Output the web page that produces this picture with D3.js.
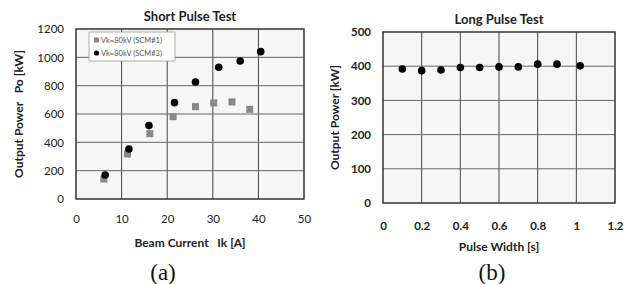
<!DOCTYPE html>
<html>
<head>
<meta charset="utf-8">
<script src="https://cdn.jsdelivr.net/npm/d3@7"></script>
<style>
  body { margin: 0; background: #fff; }
  svg { display: block; }
  .tick text { fill: #222; }
</style>
</head>
<body>
<svg id="chart" width="635" height="284"></svg>
<script>
// Short pulse test: beam current [A] vs output power [kW]
const scm1Current = [6.1, 11.3, 16.2, 21.3, 26.2, 30.2, 34.2, 38.1];
const scm1Power   = [141, 318, 461, 581, 652, 678, 685, 633];
const scm3Current = [6.4, 11.6, 16.0, 21.6, 26.2, 31.3, 36.0, 40.5];
const scm3Power   = [169, 353, 518, 680, 826, 930, 974, 1040];
const shortXTicks = [0, 10, 20, 30, 40, 50];
const shortYTicks = [0, 200, 400, 600, 800, 1000, 1200];
const legendLabels = ["Vk=80kV (SCM#1)", "Vk=80kV (SCM#3)"];

// Long pulse test: pulse width [s] vs output power [kW]
const pulseWidth = [0.1, 0.2, 0.3, 0.4, 0.5, 0.6, 0.7, 0.8, 0.9, 1.02];
const longPower  = [392, 387, 389, 396, 396, 398, 398, 406, 406, 401];
const longXTicks = [0, 0.2, 0.4, 0.6, 0.8, 1, 1.2];
const longYTicks = [0, 100, 200, 300, 400, 500];

const font = "Lato, 'Open Sans', sans-serif";
const svg = d3.select("#chart");

function panel(opts) {
    const x = d3.scaleLinear().domain(opts.xDomain).range([opts.left, opts.right]);
    const y = d3.scaleLinear().domain(opts.yDomain).range([opts.bottom, opts.top]);
    const g = svg.append("g");

    g.append("rect")
        .attr("x", opts.left).attr("y", opts.top)
        .attr("width", opts.right - opts.left)
        .attr("height", opts.bottom - opts.top)
        .attr("fill", "#f6f6f6");

    // grid
    g.append("g").selectAll("line")
        .data(opts.xTicks.slice(1, -1))
        .enter().append("line")
        .attr("x1", d => x(d)).attr("x2", d => x(d))
        .attr("y1", opts.top).attr("y2", opts.bottom)
        .attr("stroke", "#444").attr("stroke-width", 1);
    g.append("g").selectAll("line")
        .data(opts.yTicks.slice(1, -1))
        .enter().append("line")
        .attr("y1", d => y(d)).attr("y2", d => y(d))
        .attr("x1", opts.left).attr("x2", opts.right)
        .attr("stroke", "#666").attr("stroke-width", 1);

    g.append("rect")
        .attr("x", opts.left).attr("y", opts.top)
        .attr("width", opts.right - opts.left)
        .attr("height", opts.bottom - opts.top)
        .attr("fill", "none")
        .attr("stroke", "#333").attr("stroke-width", 1.5);

    const xAxis = d3.axisBottom(x).tickValues(opts.xTicks).tickSize(0).tickPadding(opts.xPad)
        .tickFormat(d3.format("~g"));
    const yAxis = d3.axisLeft(y).tickValues(opts.yTicks).tickSize(0).tickPadding(opts.yPad)
        .tickFormat(d3.format("d"));

    g.append("g")
        .attr("transform", `translate(0, ${opts.bottom})`)
        .call(xAxis)
        .call(a => a.select(".domain").remove())
        .selectAll("text")
        .style("font-family", font).style("font-size", "11.5px")
        .style("font-weight", opts.tickWeight);

    g.append("g")
        .attr("transform", `translate(${opts.left}, 0)`)
        .call(yAxis)
        .call(a => a.select(".domain").remove())
        .selectAll("text")
        .style("font-family", font).style("font-size", "11.5px")
        .style("font-weight", opts.tickWeight);

    const cx = (opts.left + opts.right) / 2;

    g.append("text")
        .attr("x", cx).attr("y", opts.top - 8)
        .attr("text-anchor", "middle")
        .style("font-family", font).style("font-size", "13px").style("font-weight", "bold")
        .attr("fill", "#222")
        .text(opts.title);

    g.append("text")
        .attr("x", cx).attr("y", opts.xTitleY)
        .attr("text-anchor", "middle")
        .style("font-family", font).style("font-size", "12px").style("font-weight", "bold")
        .attr("fill", "#222")
        .style("white-space", "pre")
        .text(opts.xTitle);

    g.append("text")
        .attr("transform", `rotate(-90)`)
        .attr("x", -(opts.top + opts.bottom) / 2).attr("y", opts.yTitleX)
        .attr("text-anchor", "middle")
        .style("font-family", font).style("font-size", "12px").style("font-weight", "bold")
        .attr("fill", "#222")
        .style("white-space", "pre")
        .text(opts.yTitle);

    g.append("text")
        .attr("x", opts.capX).attr("y", 280)
        .attr("text-anchor", "middle")
        .style("font-family", "'Liberation Serif', 'Times New Roman', serif")
        .style("font-size", "23px")
        .attr("fill", "#111")
        .text(opts.caption);

    return { x, y, g };
}

// (a)
const a = panel({
    left: 76, right: 304, top: 29, bottom: 199,
    xDomain: [0, 50], yDomain: [0, 1200],
    xTicks: shortXTicks, yTicks: shortYTicks,
    xPad: 16, yPad: 12, tickWeight: "normal",
    title: "Short Pulse Test",
    xTitle: "Beam Current   Ik [A]", xTitleY: 247,
    yTitle: "Output Power   Po [kW]", yTitleX: 23,
    caption: "(a)", capX: 163
});

a.g.append("g").selectAll("rect")
    .data(d3.zip(scm1Current, scm1Power))
    .enter().append("rect")
    .attr("x", d => a.x(d[0]) - 3.5)
    .attr("y", d => a.y(d[1]) - 3.5)
    .attr("width", 7).attr("height", 7)
    .attr("fill", "#888");

a.g.append("g").selectAll("circle")
    .data(d3.zip(scm3Current, scm3Power))
    .enter().append("circle")
    .attr("cx", d => a.x(d[0]))
    .attr("cy", d => a.y(d[1]))
    .attr("r", 3.8)
    .attr("fill", "#000");

// legend
const leg = a.g.append("g").attr("transform", "translate(89, 32)");
leg.append("rect")
    .attr("width", 86).attr("height", 29)
    .attr("fill", "#fff").attr("stroke", "#999").attr("stroke-width", 0.8);
leg.append("rect")
    .attr("x", 5).attr("y", 5.5).attr("width", 5).attr("height", 5)
    .attr("fill", "#888");
leg.append("circle")
    .attr("cx", 7.5).attr("cy", 21).attr("r", 2.6)
    .attr("fill", "#000");
leg.selectAll("text")
    .data(legendLabels)
    .enter().append("text")
    .attr("x", 12).attr("y", (d, i) => 10.5 + i * 13)
    .style("font-family", font).style("font-size", "7.5px")
    .attr("fill", "#555")
    .text(d => d);

// (b)
const b = panel({
    left: 383, right: 615, top: 32, bottom: 203,
    xDomain: [0, 1.2], yDomain: [0, 500],
    xTicks: longXTicks, yTicks: longYTicks,
    xPad: 19, yPad: 12, tickWeight: "bold",
    title: "Long Pulse Test",
    xTitle: "Pulse Width [s]", xTitleY: 251,
    yTitle: "Output Power [kW]", yTitleX: 339,
    caption: "(b)", capX: 492
});

b.g.append("g").selectAll("circle")
    .data(d3.zip(pulseWidth, longPower))
    .enter().append("circle")
    .attr("cx", d => b.x(d[0]))
    .attr("cy", d => b.y(d[1]))
    .attr("r", 3.8)
    .attr("fill", "#000");
</script>
</body>
</html>
